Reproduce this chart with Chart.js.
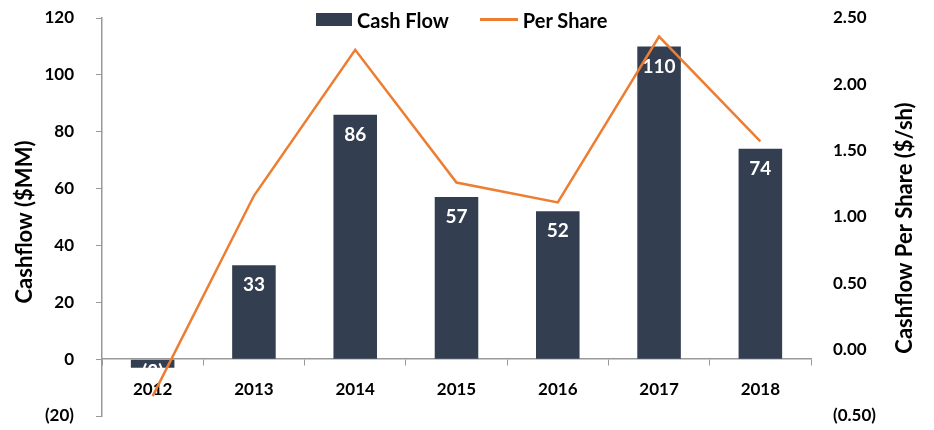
<!DOCTYPE html>
<html>
<head>
<meta charset="utf-8">
<script src="https://cdn.jsdelivr.net/npm/chart.js@4/dist/chart.umd.min.js"></script>
<style>
  body { margin: 0; background: #fff; }
  .wrap { position: relative; width: 934px; height: 430px; }
  .legend { position: absolute; top: 5px; left: 316px; font: bold 20px Lato, sans-serif; color: #000; white-space: nowrap; }
  .legend span { display: inline-block; vertical-align: middle; }
  .box { width: 36px; height: 13px; background: #333F50; margin-right: 5px; }
  .ln { width: 38px; height: 3px; background: #ED7D31; margin-left: 31px; margin-right: 5px; }
</style>
</head>
<body>
<div class="wrap">
  <canvas id="myChart" width="934" height="430"></canvas>
  <div class="legend"><span class="box"></span><span>Cash Flow</span><span class="ln"></span><span>Per Share</span></div>
</div>
<script>
const years = ['2012', '2013', '2014', '2015', '2016', '2017', '2018'];
const cashFlow = [-3, 33, 86, 57, 52, 110, 74];
const perShare = [-0.35, 1.16, 2.26, 1.26, 1.11, 2.36, 1.57];
const leftTitle = 'Cashflow ($MM)';
const rightTitle = 'Cashflow Per Share ($/sh)';

const barColor = '#333F50';
const lineColor = '#ED7D31';
const fontFamily = 'Lato, sans-serif';

const paren = (v, digits) => {
    const s = Math.abs(v).toFixed(digits);
    return v < 0 ? '(' + s + ')' : s;
};

// value labels inside the bars, drawn before the line so the line sits on top
const barLabels = {
    id: 'barLabels',
    afterDatasetDraw(chart, args) {
        if (args.index !== 0) return;
        const ctx = chart.ctx;
        ctx.save();
        ctx.fillStyle = '#fff';
        ctx.font = 'bold 19px ' + fontFamily;
        ctx.textAlign = 'center';
        ctx.textBaseline = 'middle';
        args.meta.data.forEach((bar, i) => {
            const y = cashFlow[i] < 0 ? bar.base + 12 : bar.y + 20;
            ctx.fillText(paren(cashFlow[i], 0), bar.x, y);
        });
        ctx.restore();
    }
};

// both axis titles read bottom-to-top
const axisTitles = {
    id: 'axisTitles',
    afterDraw(chart) {
        const ctx = chart.ctx;
        const midY = (chart.chartArea.top + chart.chartArea.bottom) / 2;
        ctx.save();
        ctx.fillStyle = '#000';
        ctx.font = 'bold 22px ' + fontFamily;
        ctx.textAlign = 'center';
        ctx.textBaseline = 'middle';
        [[25, leftTitle, midY + 5], [905, rightTitle, midY + 11]].forEach(([x, text, y]) => {
            ctx.save();
            ctx.translate(x, y);
            ctx.rotate(-Math.PI / 2);
            ctx.fillText(text, 0, 0);
            ctx.restore();
        });
        ctx.restore();
    }
};

// fixed axis widths, and no extra room reserved for the tick padding
const fitY = (width) => (s) => {
    s.width = width;
    s.paddingTop = 0;
    s.paddingBottom = 0;
};

const ctx = document.getElementById('myChart');
new Chart(ctx, {
    data: {
        labels: years,
        datasets: [
            {
                type: 'bar',
                label: 'Cash Flow',
                data: cashFlow,
                backgroundColor: barColor,
                barPercentage: 0.43,
                categoryPercentage: 1,
                yAxisID: 'y',
                order: 1
            },
            {
                type: 'line',
                label: 'Per Share',
                data: perShare,
                borderColor: lineColor,
                borderWidth: 2.5,
                pointRadius: 0,
                tension: 0,
                yAxisID: 'y1',
                order: 0
            }
        ]
    },
    options: {
        responsive: false,
        animation: false,
        layout: { padding: { top: 18, bottom: 14 } },
        plugins: { legend: { display: false }, tooltip: { enabled: false } },
        scales: {
            x: {
                position: { y: 0 },
                offset: true,
                grid: { display: true, drawOnChartArea: false, offset: true, tickLength: 6, color: '#999' },
                border: { color: '#999', width: 1.5 },
                ticks: { color: '#000', font: { family: fontFamily, size: 17, weight: 'bold' }, padding: 14 }
            },
            y: {
                position: 'left',
                min: -20,
                max: 120,
                afterFit: fitY(102),
                grid: { drawOnChartArea: false, tickLength: 6, color: '#999' },
                border: { color: '#999', width: 1.5 },
                ticks: {
                    stepSize: 20,
                    padding: 22,
                    color: '#000',
                    font: { family: fontFamily, size: 17, weight: 'bold' },
                    callback: (v) => paren(v, 0)
                }
            },
            y1: {
                position: 'right',
                min: -0.5,
                max: 2.5,
                afterFit: fitY(123),
                grid: { display: false },
                border: { display: false },
                ticks: {
                    stepSize: 0.5,
                    padding: 14,
                    color: '#000',
                    font: { family: fontFamily, size: 17, weight: 'bold' },
                    callback: (v) => paren(v, 2)
                }
            }
        }
    },
    plugins: [barLabels, axisTitles]
});
</script>
</body>
</html>
